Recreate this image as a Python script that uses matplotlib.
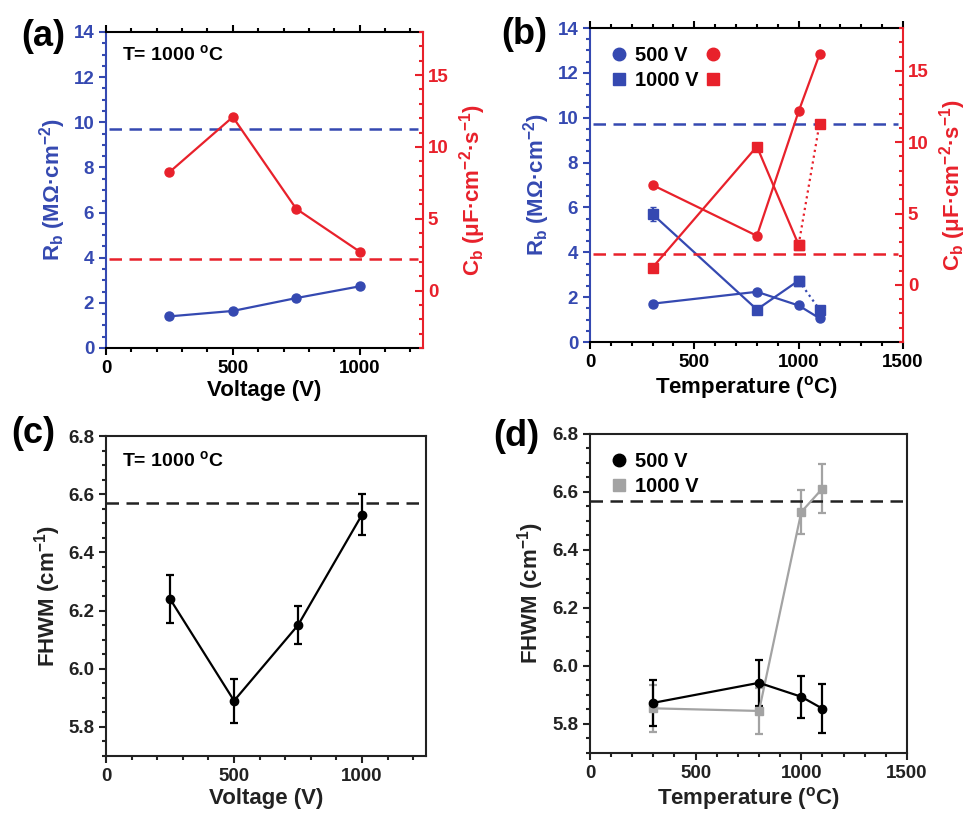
import numpy as np
import matplotlib
matplotlib.use('Agg')
import matplotlib.pyplot as plt
from matplotlib.ticker import MultipleLocator

# ==== data ====
volt = [250, 500, 750, 1000]
rb_volt = [1.40, 1.64, 2.21, 2.73]
cb_volt = [8.24, 12.08, 5.69, 2.71]

temp = [300, 800, 1000, 1100]
rb_500 = [1.71, 2.24, 1.63, 1.06]
rb_1000 = [5.70, 1.45, 2.74, 1.45]
rb_1000_err = [0.3, 0, 0, 0]
cb_500 = [7.0, 3.44, 12.16, 16.15]
cb_1000 = [1.22, 9.70, 2.81, 11.3]

rb_ref = 9.7      # blue dashed line (left axis)
cb_ref = 2.2      # red dashed line (right axis)

fwhm_volt = [6.24, 5.89, 6.15, 6.53]
fwhm_volt_err = [0.083, 0.075, 0.065, 0.07]

fwhm_500 = [5.873, 5.942, 5.894, 5.853]
fwhm_500_err = [0.08, 0.08, 0.072, 0.085]
fwhm_1000 = [5.854, 5.845, 6.531, 6.612]
fwhm_1000_err = [0.08, 0.08, 0.077, 0.083]
fwhm_ref = 6.57

BLUE = '#3549b1'
RED = '#e8212b'
GREY = '#a3a3a3'

plt.rcParams.update({
    'font.family': 'Liberation Sans', 'font.weight': 'bold',
    'axes.labelweight': 'bold', 'font.size': 13.5,
    'mathtext.fontset': 'custom', 'mathtext.rm': 'Liberation Sans:bold',
    'mathtext.bf': 'Liberation Sans:bold', 'mathtext.it': 'Liberation Sans:bold',
    'mathtext.default': 'bf', 'axes.linewidth': 1.5,
})

fig = plt.figure(figsize=(9.7, 8.13), dpi=100)

ax_a = fig.add_axes([0.1093, 0.572, 0.3268, 0.3887])
ax_b = fig.add_axes([0.6082, 0.5793, 0.3227, 0.3862])
ax_c = fig.add_axes([0.1093, 0.0701, 0.330, 0.3936])
ax_d = fig.add_axes([0.6082, 0.0738, 0.3268, 0.3924])

RB_LABEL = 'R$_b$ (M\u03a9\u00b7cm$^{-2}$)'
CB_LABEL = 'C$_b$ (\u03bcF\u00b7cm$^{-2}$\u00b7s$^{-1}$)'
LAB_FS = 16


def style_dual(ax, xmax, xmajor):
    ax.set_xlim(0, xmax)
    ax.set_ylim(0, 14)
    ax.xaxis.set_major_locator(MultipleLocator(xmajor))
    ax.xaxis.set_minor_locator(MultipleLocator(100))
    ax.yaxis.set_major_locator(MultipleLocator(2))
    ax.yaxis.set_minor_locator(MultipleLocator(0.5))
    ax.tick_params(axis='x', which='both', direction='out', top=True,
                   width=1.5, labelsize=13.5)
    ax.tick_params(axis='x', which='major', length=5)
    ax.tick_params(axis='x', which='minor', length=3)
    ax.tick_params(axis='y', which='both', direction='out', colors=BLUE,
                   width=1.5, labelsize=13.5)
    ax.tick_params(axis='y', which='major', length=5)
    ax.tick_params(axis='y', which='minor', length=3)
    ax.spines['left'].set_color(BLUE)
    ax.spines['right'].set_visible(False)
    ax.set_ylabel(RB_LABEL, color=BLUE, fontsize=LAB_FS, labelpad=4)

    tw = ax.twinx()
    tw.set_ylim(-4, 18)
    tw.yaxis.set_major_locator(MultipleLocator(5))
    tw.yaxis.set_minor_locator(MultipleLocator(1))
    tw.tick_params(axis='y', which='both', direction='in', colors=RED,
                   width=1.5, labelsize=13.5)
    tw.tick_params(axis='y', which='major', length=6)
    tw.tick_params(axis='y', which='minor', length=3)
    tw.spines['right'].set_color(RED)
    for s in ['left', 'top', 'bottom']:
        tw.spines[s].set_visible(False)
    tw.set_ylabel(CB_LABEL, color=RED, fontsize=LAB_FS, labelpad=6)
    for lab in ax.get_yticklabels() + tw.get_yticklabels() + ax.get_xticklabels():
        lab.set_fontweight('bold')
    return tw


def style_fwhm(ax, xmax, xmajor):
    ax.set_xlim(0, xmax)
    ax.set_ylim(5.7, 6.8)
    ax.xaxis.set_major_locator(MultipleLocator(xmajor))
    ax.xaxis.set_minor_locator(MultipleLocator(100))
    ax.yaxis.set_major_locator(MultipleLocator(0.2))
    ax.yaxis.set_minor_locator(MultipleLocator(0.05))
    ax.yaxis.set_major_formatter(matplotlib.ticker.FormatStrFormatter('%.1f'))
    ax.tick_params(which='both', direction='out', width=1.5, labelsize=13.5,
                   colors='#222222')
    ax.tick_params(which='major', length=5)
    ax.tick_params(which='minor', length=3)
    for s in ax.spines.values():
        s.set_color('#222222')
    ax.set_ylabel('FHWM (cm$^{-1}$)', fontsize=LAB_FS, color='#222222')


# ==== (a) ====
tw_a = style_dual(ax_a, 1250, 500)
ax_a.plot(volt, rb_volt, '-o', color=BLUE, lw=1.6, ms=6.5, zorder=3)
tw_a.plot(volt, cb_volt, '-o', color=RED, lw=1.6, ms=6.5, zorder=3)
ax_a.axhline(rb_ref, xmin=0.01, xmax=0.985, color=BLUE, ls=(0, (5, 3)), lw=1.8)
tw_a.axhline(cb_ref, xmin=0.01, xmax=0.985, color=RED, ls=(0, (5, 3)), lw=1.8)
ax_a.set_xlabel('Voltage (V)', fontsize=LAB_FS, labelpad=2)
ax_a.text(0.05, 0.93, 'T= 1000 $^o$C', transform=ax_a.transAxes,
          fontsize=14, va='center', ha='left')

# ==== (b) ====
tw_b = style_dual(ax_b, 1500, 500)
ax_b.plot(temp, rb_500, '-o', color=BLUE, lw=1.6, ms=6.5, zorder=3)
ax_b.errorbar(temp[:3], rb_1000[:3], yerr=rb_1000_err[:3], fmt='-s',
              color=BLUE, lw=1.6, ms=6.5, capsize=2.5, zorder=3)
ax_b.plot(temp[2:], rb_1000[2:], ':s', color=BLUE, lw=1.6, ms=6.5, zorder=3)
tw_b.plot(temp, cb_500, '-o', color=RED, lw=1.6, ms=6.5, zorder=3)
tw_b.plot(temp[:3], cb_1000[:3], '-s', color=RED, lw=1.6, ms=6.5, zorder=3)
tw_b.plot(temp[2:], cb_1000[2:], ':s', color=RED, lw=1.6, ms=6.5, zorder=3)
ax_b.axhline(rb_ref, xmin=0.01, xmax=0.985, color=BLUE, ls=(0, (5, 3)), lw=1.8)
tw_b.axhline(cb_ref, xmin=0.01, xmax=0.985, color=RED, ls=(0, (5, 3)), lw=1.8)
ax_b.set_xlabel('Temperature ($^o$C)', fontsize=LAB_FS, labelpad=2)

h_b1, = tw_b.plot([], [], 'o', color=BLUE, ms=9)
h_b2, = tw_b.plot([], [], 's', color=BLUE, ms=9)
h_r1, = tw_b.plot([], [], 'o', color=RED, ms=9)
h_r2, = tw_b.plot([], [], 's', color=RED, ms=9)
tw_b.legend([h_b1, h_b2, h_r1, h_r2], ['500 V', '1000 V', '', ''], ncol=2,
            loc='upper left', bbox_to_anchor=(0.01, 1.0), frameon=False,
            handlelength=0.8, handletextpad=0.4, columnspacing=0.3,
            labelspacing=0.3, prop={'size': 14.5, 'weight': 'bold'})

# ==== (c) ====
style_fwhm(ax_c, 1250, 500)
ax_c.errorbar(volt, fwhm_volt, yerr=fwhm_volt_err, fmt='-o', color='black',
              lw=1.6, ms=6, capsize=3, elinewidth=1.6, capthick=1.6)
ax_c.axhline(fwhm_ref, color='#222222', ls=(0, (5, 3)), lw=1.8)
ax_c.set_xlabel('Voltage (V)', fontsize=LAB_FS, labelpad=2, color='#222222')
ax_c.text(0.05, 0.925, 'T= 1000 $^o$C', transform=ax_c.transAxes,
          fontsize=14, va='center', ha='left')

# ==== (d) ====
style_fwhm(ax_d, 1500, 500)
ax_d.errorbar(temp, fwhm_1000, yerr=fwhm_1000_err, fmt='-s', color=GREY,
              lw=1.6, ms=6, capsize=3, elinewidth=1.6, capthick=1.6,
              label='1000 V')
ax_d.errorbar(temp, fwhm_500, yerr=fwhm_500_err, fmt='-o', color='black',
              lw=1.6, ms=6, capsize=3, elinewidth=1.6, capthick=1.6,
              label='500 V')
ax_d.axhline(fwhm_ref, color='#222222', ls=(0, (5, 3)), lw=1.8)
ax_d.set_xlabel('Temperature ($^o$C)', fontsize=LAB_FS, labelpad=2,
                color='#222222')
h_k, = ax_d.plot([], [], 'o', color='black', ms=9)
h_g, = ax_d.plot([], [], 's', color=GREY, ms=9)
ax_d.legend([h_k, h_g], ['500 V', '1000 V'], loc='upper left',
            bbox_to_anchor=(0.01, 1.0), frameon=False, handlelength=0.8,
            handletextpad=0.4, labelspacing=0.3,
            prop={'size': 14.5, 'weight': 'bold'})

# ==== panel letters ====
for lab, x, y in [('(a)', 0.022, 0.955), ('(b)', 0.517, 0.957),
                  ('(c)', 0.012, 0.467), ('(d)', 0.508, 0.463)]:
    fig.text(x, y, lab, fontsize=26, fontweight='bold', va='center', ha='left')

fig.savefig('out.png', dpi=100)
